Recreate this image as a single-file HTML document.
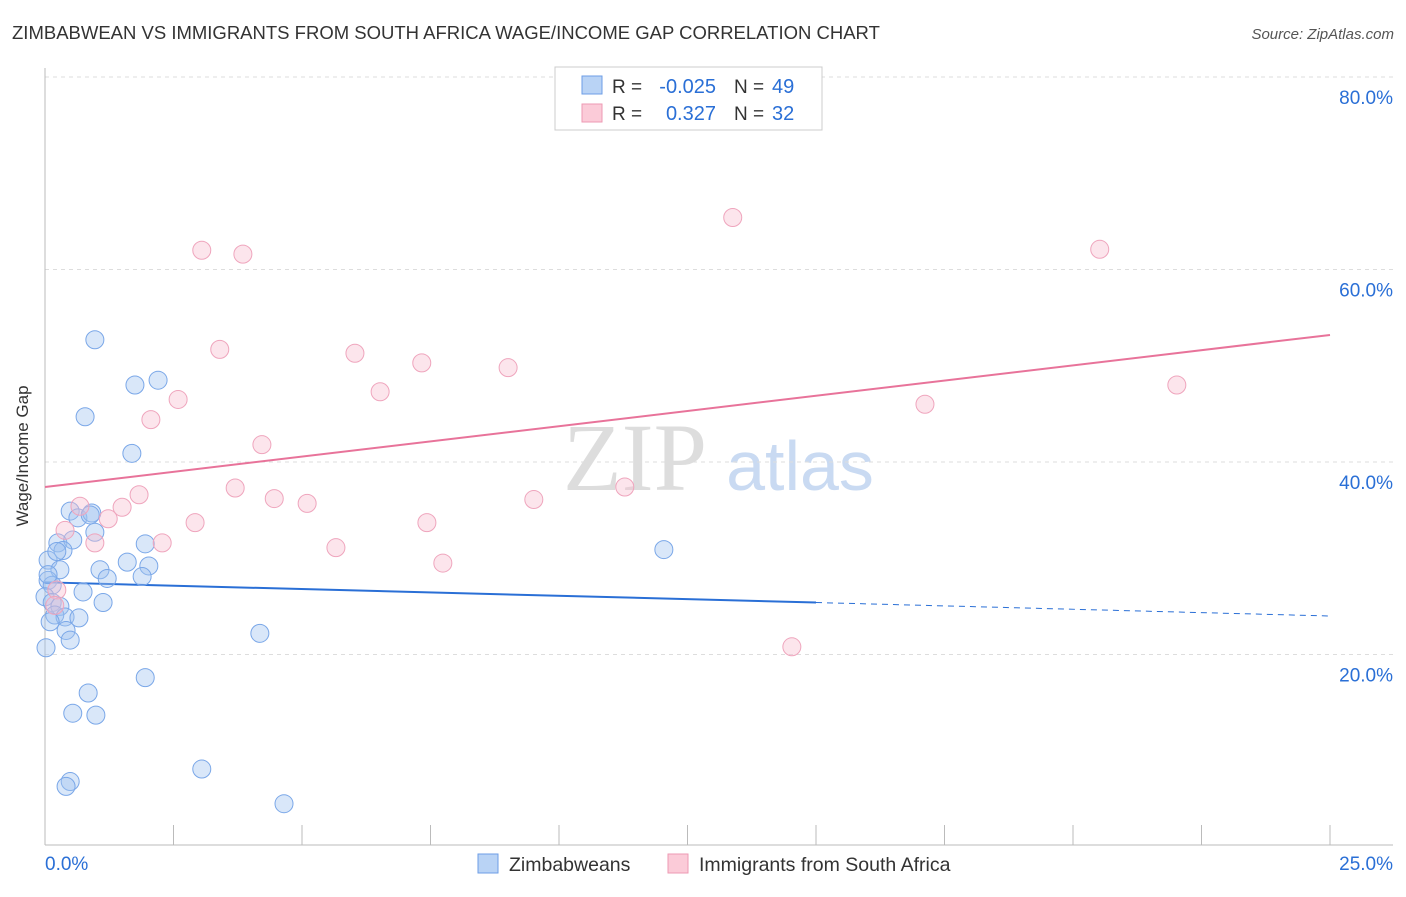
<!DOCTYPE html>
<html><head><meta charset="utf-8"><style>
body{margin:0;background:#fff;font-family:"Liberation Sans",sans-serif}
</style></head><body>
<svg id="c" width="1406" height="892" xmlns="http://www.w3.org/2000/svg">
<text x="12" y="39" font-size="18.5" fill="#333">ZIMBABWEAN VS IMMIGRANTS FROM SOUTH AFRICA WAGE/INCOME GAP CORRELATION CHART</text>
<text x="1394" y="39" font-size="15" fill="#555" font-style="italic" text-anchor="end">Source: ZipAtlas.com</text>
<text x="28" y="456" font-size="17" fill="#333" text-anchor="middle" transform="rotate(-90 28 456)">Wage/Income Gap</text>
<text x="635" y="490" font-size="96" fill="#ddd" text-anchor="middle" font-family="Liberation Serif">ZIP</text>
<text x="800" y="490" font-size="70" fill="#c9daf2" text-anchor="middle">atlas</text>
<g id="grid"></g><g id="axes"></g><g id="trend"></g><g id="pts"></g>
<g>
<rect x="555" y="67" width="267" height="63" fill="#fff" stroke="#ccc"/>
<rect x="582" y="76" width="20" height="18" fill="#b9d3f5" stroke="#6d9ee6"/>
<rect x="582" y="104" width="20" height="18" fill="#fbcbd8" stroke="#ee9ab3"/>
<text x="612" y="93" font-size="19" fill="#333">R =</text>
<text x="716" y="93" font-size="20" fill="#2a6fd6" text-anchor="end">-0.025</text>
<text x="734" y="93" font-size="19" fill="#333">N =</text>
<text x="772" y="93" font-size="20" fill="#2a6fd6">49</text>
<text x="612" y="120" font-size="19" fill="#333">R =</text>
<text x="716" y="120" font-size="20" fill="#2a6fd6" text-anchor="end">0.327</text>
<text x="734" y="120" font-size="19" fill="#333">N =</text>
<text x="772" y="120" font-size="20" fill="#2a6fd6">32</text>
</g>
<g>
<rect x="478" y="854" width="20" height="19" fill="#b9d3f5" stroke="#6d9ee6"/>
<text x="509" y="871" font-size="19.5" fill="#333">Zimbabweans</text>
<rect x="668" y="854" width="20" height="19" fill="#fbcbd8" stroke="#ee9ab3"/>
<text x="699" y="871" font-size="19.5" fill="#333">Immigrants from South Africa</text>
</g>
</svg>
<script>
const blueX=[0.97,1.75,2.20,0.78,1.69,0.49,0.64,0.91,0.97,0.25,0.54,0.35,1.95,0.06,0.29,1.07,1.60,2.02,1.21,1.89,0.06,0.14,0.74,0,0.14,0.29,1.13,0.19,0.39,0.66,0.10,0.41,0.49,4.18,0.02,1.95,0.84,0.54,0.99,3.05,0.49,0.41,4.65,12.04,0.23,0.06,0.88];
const blueY=[52.7,48.0,48.5,44.7,40.9,34.9,34.2,34.7,32.7,31.6,31.9,30.8,31.5,29.8,28.8,28.8,29.6,29.2,27.9,28.1,27.7,27.2,26.5,26.0,25.4,25.0,25.4,24.1,23.9,23.8,23.4,22.5,21.5,22.2,20.7,17.6,16.0,13.9,13.7,8.1,6.8,6.3,4.5,30.9,30.7,28.3,34.5];
const pinkX=[3.05,3.85,13.38,20.52,3.40,6.03,7.33,9.01,6.52,2.59,2.06,4.22,22.02,17.12,3.70,1.83,4.46,5.10,9.51,11.28,0.68,1.50,1.23,2.92,7.43,0.39,0.97,2.28,5.66,7.74,14.53,0.23,0.19];
const pinkY=[62.0,61.6,65.4,62.1,51.7,51.3,50.3,49.8,47.3,46.5,44.4,41.8,48.0,46.0,37.3,36.6,36.2,35.7,36.1,37.4,35.4,35.3,34.1,33.7,33.7,32.9,31.6,31.6,31.1,29.5,20.8,26.7,25.1];
const yTicks=[20,40,60,80];
const yTickLabels=["20.0%","40.0%","60.0%","80.0%"];
const blueTrend=[27.5,24.0];
const blueSolidEnd=15;
const pinkTrend=[37.4,53.2];
const X=v=>45+v*1285/25, Y=v=>847-v*192.5/20;
const NS="http://www.w3.org/2000/svg";
function mk(p,t,a){const e=document.createElementNS(NS,t);for(const k in a)e.setAttribute(k,a[k]);document.getElementById(p).appendChild(e);return e;}
yTicks.forEach((t,i)=>{
 const l=mk('grid','line',{x1:45,x2:1393,y1:Y(t),y2:Y(t),stroke:'#ddd','stroke-dasharray':'4,4'});
 
 
 const tx=mk('grid','text',{x:1393,y:Y(t)+27,'font-size':19,fill:'#2a6fd6','text-anchor':'end','font-weight':'300'});
 tx.textContent=yTickLabels[i];
 
 
});
let a=mk('axes','line',{x1:45,x2:45,y1:68,y2:845,stroke:'#bbb'});


a=mk('axes','line',{x1:45,x2:1393,y1:845,y2:845,stroke:'#bbb'});


for(let i=0;i<=10;i++){const t=mk('axes','line',{x1:X(i*2.5),x2:X(i*2.5),y1:825,y2:845,stroke:'#bbb'});
 
 }
let t0=mk('axes','text',{x:45,y:870,'font-size':19,fill:'#2a6fd6'});t0.textContent='0.0%';


let t1=mk('axes','text',{x:1393,y:870,'font-size':19,fill:'#2a6fd6','text-anchor':'end'});t1.textContent='25.0%';


const bAt=x=>blueTrend[0]+(blueTrend[1]-blueTrend[0])*x/25;
let tl=mk('trend','line',{x1:X(0),y1:Y(bAt(0)),x2:X(blueSolidEnd),y2:Y(bAt(blueSolidEnd)),stroke:'#2a6fd6','stroke-width':2});


tl=mk('trend','line',{x1:X(blueSolidEnd),y1:Y(bAt(blueSolidEnd)),x2:X(25),y2:Y(bAt(25)),stroke:'#2a6fd6','stroke-width':1,'stroke-dasharray':'6,5'});


tl=mk('trend','line',{x1:X(0),y1:Y(pinkTrend[0]),x2:X(25),y2:Y(pinkTrend[1]),stroke:'#e8739a','stroke-width':2});


blueX.forEach((x,i)=>{const c=mk('pts','circle',{cx:X(x),cy:Y(blueY[i]),r:9,fill:'rgba(160,196,240,0.4)',stroke:'#7aa7e8','stroke-width':1});
 
 });
pinkX.forEach((x,i)=>{const c=mk('pts','circle',{cx:X(x),cy:Y(pinkY[i]),r:9,fill:'rgba(248,190,208,0.4)',stroke:'#efa5bd','stroke-width':1});
 
 });
</script>
</body></html>
